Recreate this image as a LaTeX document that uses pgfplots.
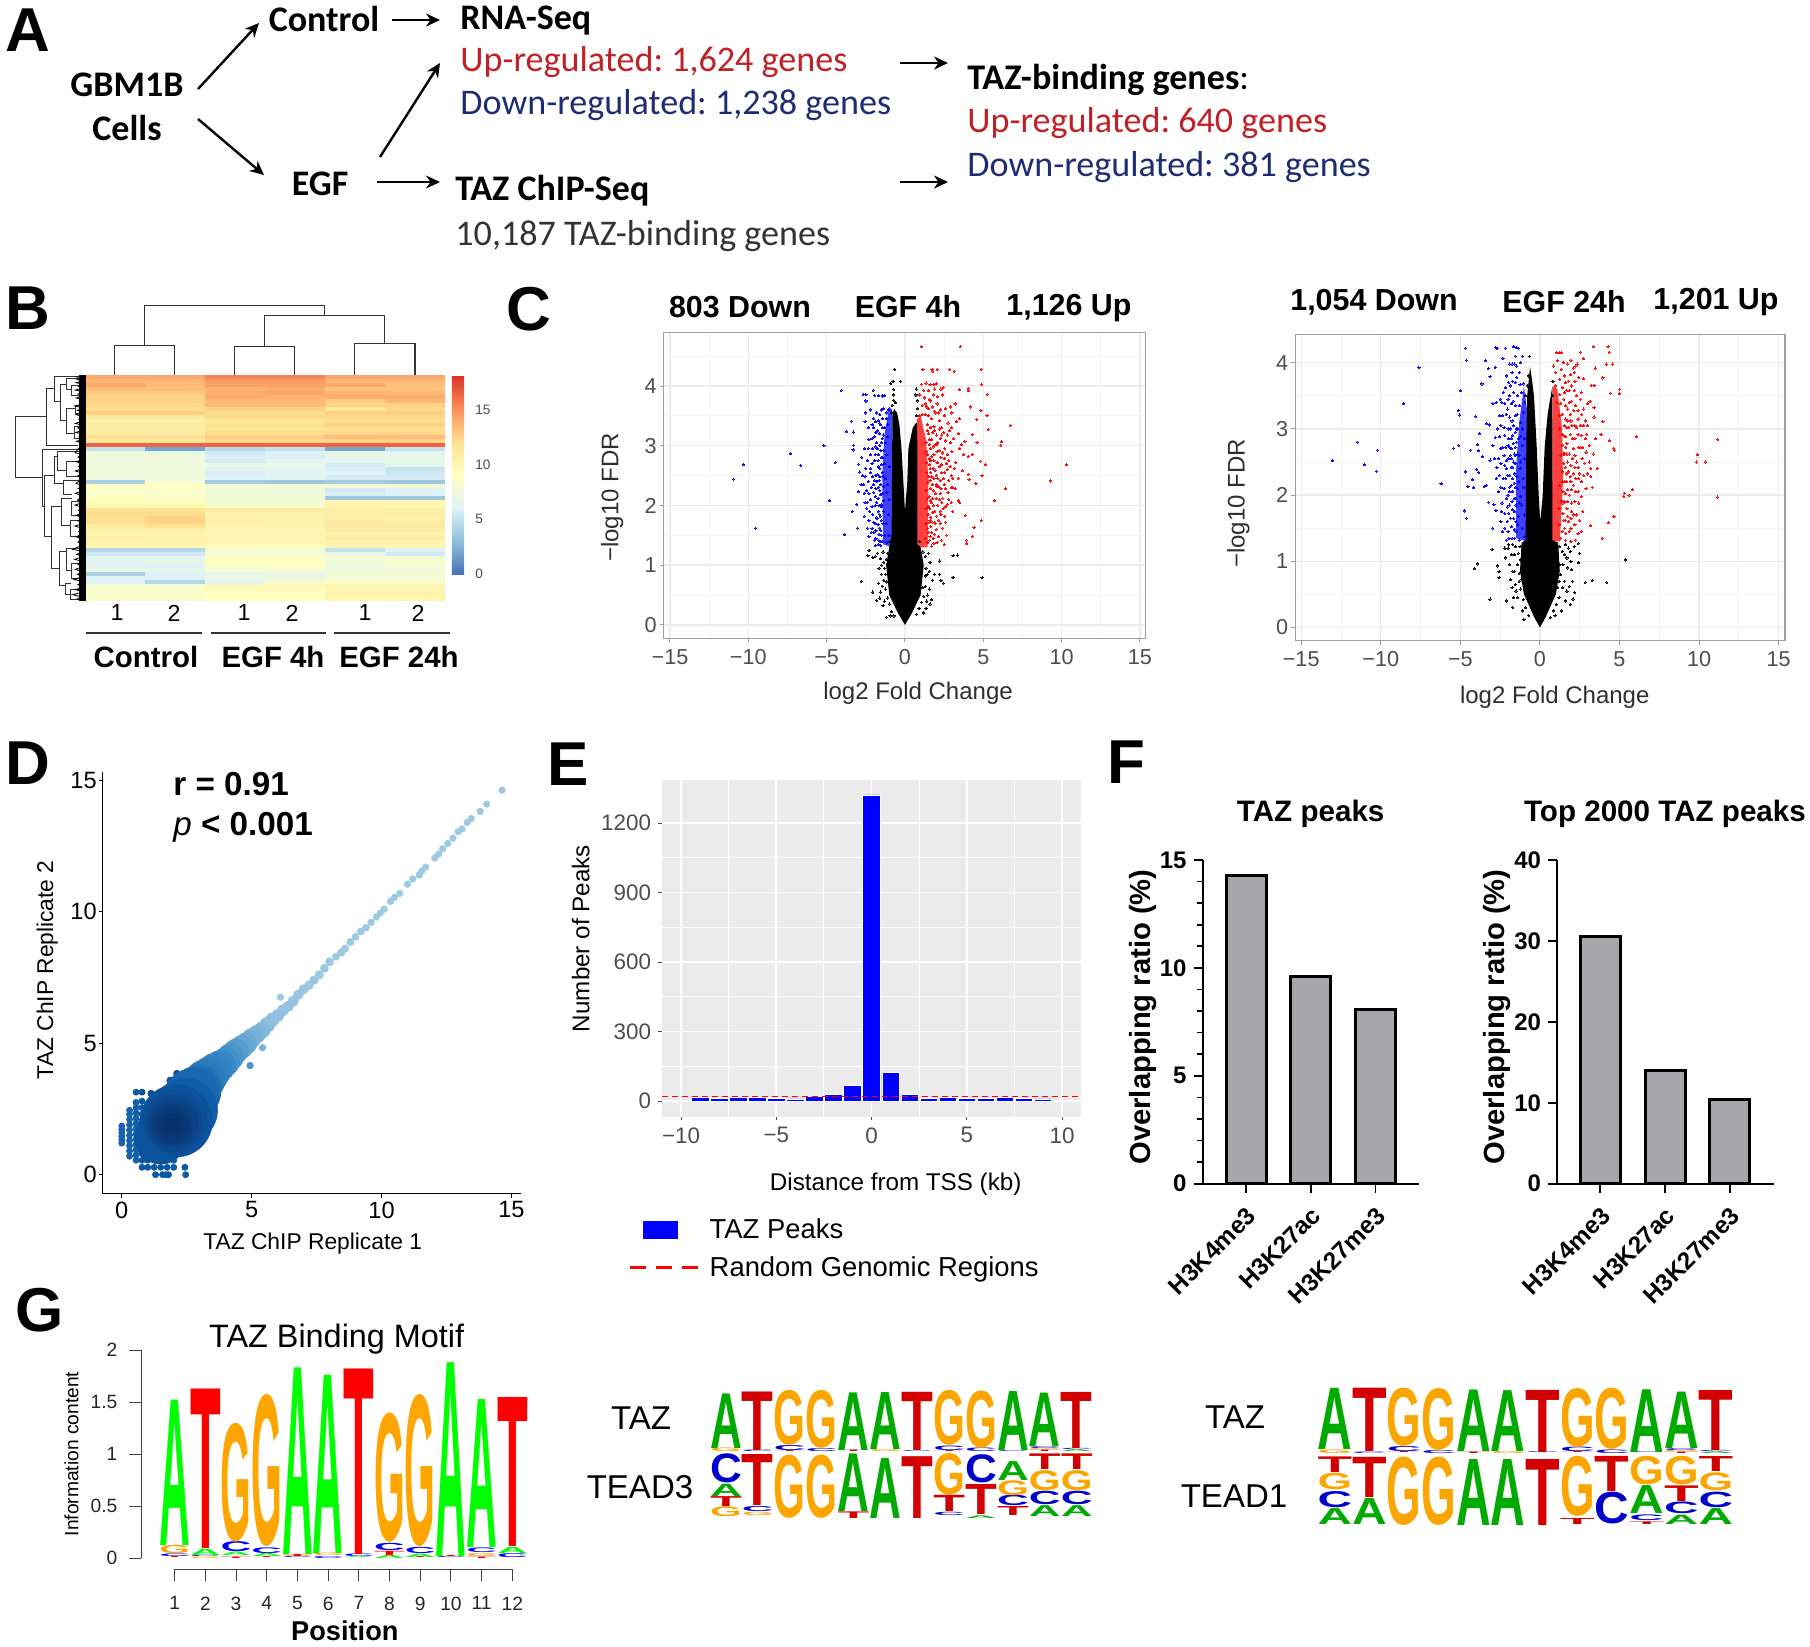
\documentclass[border=0pt]{standalone}
\usepackage{fontspec}
\usepackage{graphicx}
\usepackage{pgfplots}
\pgfplotsset{compat=1.18,unbounded coords=jump}
\usetikzlibrary{arrows.meta}
\setmainfont{Liberation Sans}
\newfontfamily\carlito{Carlito}
\newcommand{\fs}[1]{\fontsize{#1}{#1}\selectfont}
\definecolor{ggray}{HTML}{4D4D4D}
\definecolor{upred}{RGB}{192,32,38}
\definecolor{downblue}{RGB}{30,45,115}
\definecolor{barg}{HTML}{A5A5AA}
\definecolor{lA}{RGB}{0,170,0}
\definecolor{lT}{RGB}{210,0,0}
\definecolor{lG}{RGB}{250,165,0}
\definecolor{lC}{RGB}{0,0,205}
\definecolor{bA}{RGB}{0,255,0}
\definecolor{bT}{RGB}{255,0,0}
\definecolor{bG}{RGB}{255,165,0}
\definecolor{bC}{RGB}{0,0,255}
% sequence logo letter: letter, colour, position, lower, upper
\newcommand{\Lt}[5]{\node[inner sep=0pt,outer sep=0pt,anchor=south] at (axis cs:#3,#4)
  {\pgfmathsetlengthmacro\hh{(#5-#4)*\lu}\resizebox*{\lw}{\hh}{\textcolor{#2}{\bfseries #1}}};}
\pgfplotsset{
  place/.style={scale only axis,anchor=south west},
  volcano/.style={place,grid=both,
    major grid style={gray!15,line width=.7pt},minor grid style={gray!9,line width=.4pt},
    axis line style={gray!75,line width=.7pt},
    xtick={-15,-10,-5,0,5,10,15},xticklabels={−15,−10,−5,0,5,10,15},
    minor xtick={-12.5,-7.5,-2.5,2.5,7.5,12.5},
    ytick={0,1,2,3,4},yticklabels={0,1,2,3,4},minor ytick={0.5,1.5,2.5,3.5,4.5},
    xtick pos=bottom,ytick pos=left,tick align=outside,
    major tick length=2pt,minor tick length=0pt,tick style={gray!80,line width=.5pt},
    tick label style={font=\fs{10.8},text=ggray},y tick label style={xshift=2pt},
    label style={font=\fs{12},text=ggray!60!black}},
  dots/.style={only marks,mark=*,mark size=.55pt,color=#1,mark options={fill=#1,draw=#1,line width=0pt,opacity=.8}},
  fbars/.style={place,width=108.3pt,height=161.85pt,ymin=0,
    axis lines=left,axis line style={-,line width=.85pt},
    xtick={0,1,2},xticklabels={H3K4me3,H3K27ac,H3K27me3},
    x tick label style={rotate=45,anchor=north east,font=\bfseries\fs{12.2},inner sep=1pt,xshift=-3.5pt,yshift=-3pt},
    y tick label style={font=\bfseries\fs{12}},
    major tick length=4.6pt,minor tick length=3pt,tick style={black,line width=.85pt},
    tick align=outside,
    ylabel={Overlapping ratio (\%)},
    ylabel style={anchor=center,font=\bfseries\fs{14.6}},
    title style={anchor=center,font=\bfseries\fs{14.8}}},
  logo/.style={place,hide axis,xmin=.5,xmax=12.5,ymin=0,ymax=2.2,clip=false,height=33pt},
}
\begin{document}
\frenchspacing
\begin{tikzpicture}
\path[use as bounding box] (0,0) rectangle (905pt,823pt);

% B heatmap
\begin{axis}[place,at={(42.5pt,522.5pt)},width=180pt,height=113pt,
  xmin=-.5,xmax=5.5,ymin=-.5,ymax=55.5,y dir=reverse,
  xtick=\empty,ytick=\empty,axis line style={draw=none},
  colormap={hm}{rgb255(0)=(69,117,180) rgb255(1)=(145,191,219) rgb255(2)=(224,243,248) rgb255(3)=(255,255,191) rgb255(4)=(254,224,144) rgb255(5)=(252,141,89) rgb255(6)=(215,48,39)},
  point meta min=0,point meta max=18.2,
  colorbar,colorbar style={at={(1.019,1)},anchor=north west,width=6.2pt,height=99.5pt,
    ytick={0,5,10,15},yticklabels={0,5,10,15},axis line style={draw=none},
    major tick length=0pt,yticklabel style={font=\fs{6.8},text=ggray,xshift=2pt}}]
\addplot[matrix plot*,mesh/cols=6,point meta=explicit] coordinates {
(0,0)[14.2](1,0)[14.2](2,0)[15.5](3,0)[15.5](4,0)[14.3](5,0)[14.3]
(0,1)[13.6](1,1)[13.6](2,1)[14.6](3,1)[14.6](4,1)[13.6](5,1)[13.6]
(0,2)[14.2](1,2)[13.6](2,2)[14.4](3,2)[14.4](4,2)[14.2](5,2)[13.4]
(0,3)[13.3](1,3)[13.4](2,3)[13.6](3,3)[14.0](4,3)[13.2](5,3)[13.2]
(0,4)[13.0](1,4)[13.0](2,4)[14.0](3,4)[14.2](4,4)[13.8](5,4)[13.6]
(0,5)[12.6](1,5)[12.6](2,5)[14.0](3,5)[13.8](4,5)[14.0](5,5)[14.0]
(0,6)[12.6](1,6)[12.6](2,6)[13.6](3,6)[13.6](4,6)[12.8](5,6)[13.6]
(0,7)[12.4](1,7)[12.4](2,7)[13.6](3,7)[13.6](4,7)[12.6](5,7)[12.6]
(0,8)[12.2](1,8)[12.2](2,8)[12.6](3,8)[12.6](4,8)[11.2](5,8)[12.4]
(0,9)[12.8](1,9)[12.8](2,9)[12.2](3,9)[12.2](4,9)[12.8](5,9)[12.8]
(0,10)[11.4](1,10)[11.4](2,10)[12.4](3,10)[12.4](4,10)[12.4](5,10)[12.4]
(0,11)[10.6](1,11)[10.6](2,11)[11.4](3,11)[11.4](4,11)[12.2](5,11)[12.2]
(0,12)[11.0](1,12)[11.0](2,12)[12.0](3,12)[12.0](4,12)[12.6](5,12)[12.6]
(0,13)[10.8](1,13)[10.8](2,13)[11.6](3,13)[11.6](4,13)[12.0](5,13)[12.0]
(0,14)[10.8](1,14)[10.8](2,14)[12.2](3,14)[12.2](4,14)[12.4](5,14)[12.4]
(0,15)[12.0](1,15)[12.0](2,15)[12.8](3,15)[12.8](4,15)[13.4](5,15)[13.4]
(0,16)[11.4](1,16)[11.4](2,16)[12.4](3,16)[12.4](4,16)[12.6](5,16)[12.6]
(0,17)[16.5](1,17)[16.5](2,17)[16.5](3,17)[16.5](4,17)[16.5](5,17)[16.5]
(0,18)[5.0](1,18)[2.0](2,18)[4.5](3,18)[5.0](4,18)[2.0](5,18)[5.0]
(0,19)[7.5](1,19)[7.0](2,19)[5.5](3,19)[6.0](4,19)[7.0](5,19)[6.5]
(0,20)[7.5](1,20)[7.5](2,20)[6.0](3,20)[5.8](4,20)[7.0](5,20)[6.8]
(0,21)[7.6](1,21)[7.6](2,21)[5.6](3,21)[6.4](4,21)[6.4](5,21)[7.0]
(0,22)[7.6](1,22)[7.6](2,22)[7.0](3,22)[7.0](4,22)[5.6](5,22)[6.8]
(0,23)[7.6](1,23)[7.6](2,23)[6.2](3,23)[6.5](4,23)[5.8](5,23)[5.2]
(0,24)[7.6](1,24)[7.6](2,24)[5.8](3,24)[6.2](4,24)[6.0](5,24)[5.4]
(0,25)[7.6](1,25)[7.6](2,25)[6.0](3,25)[6.4](4,25)[5.6](5,25)[5.6]
(0,26)[4.0](1,26)[8.0](2,26)[3.8](3,26)[3.5](4,26)[3.8](5,26)[3.5]
(0,27)[9.0](1,27)[9.0](2,27)[8.0](3,27)[8.0](4,27)[8.0](5,27)[8.0]
(0,28)[8.5](1,28)[8.5](2,28)[7.5](3,28)[7.5](4,28)[5.5](5,28)[6.0]
(0,29)[8.5](1,29)[8.5](2,29)[7.6](3,29)[7.6](4,29)[5.8](5,29)[6.0]
(0,30)[9.0](1,30)[8.5](2,30)[7.8](3,30)[7.8](4,30)[3.5](5,30)[3.5]
(0,31)[9.5](1,31)[9.5](2,31)[8.0](3,31)[8.0](4,31)[10.0](5,31)[10.0]
(0,32)[9.8](1,32)[9.8](2,32)[8.4](3,32)[8.4](4,32)[10.2](5,32)[10.0]
(0,33)[11.8](1,33)[11.8](2,33)[11.0](3,33)[11.0](4,33)[10.6](5,33)[10.6]
(0,34)[12.2](1,34)[12.2](2,34)[10.4](3,34)[10.4](4,34)[11.0](5,34)[11.0]
(0,35)[12.0](1,35)[12.6](2,35)[10.2](3,35)[10.4](4,35)[10.6](5,35)[10.6]
(0,36)[12.0](1,36)[12.6](2,36)[10.6](3,36)[10.4](4,36)[11.2](5,36)[11.0]
(0,37)[11.0](1,37)[11.8](2,37)[10.2](3,37)[10.2](4,37)[11.2](5,37)[11.2]
(0,38)[10.6](1,38)[10.6](2,38)[10.0](3,38)[10.0](4,38)[11.0](5,38)[11.0]
(0,39)[10.2](1,39)[10.2](2,39)[10.0](3,39)[10.0](4,39)[10.2](5,39)[10.2]
(0,40)[10.6](1,40)[10.4](2,40)[9.8](3,40)[9.8](4,40)[11.0](5,40)[11.0]
(0,41)[10.4](1,41)[10.4](2,41)[10.0](3,41)[10.0](4,41)[10.4](5,41)[10.4]
(0,42)[10.0](1,42)[10.0](2,42)[9.4](3,42)[9.2](4,42)[10.0](5,42)[10.0]
(0,43)[4.5](1,43)[4.5](2,43)[8.0](3,43)[8.0](4,43)[5.0](5,43)[6.0]
(0,44)[5.5](1,44)[5.5](2,44)[8.4](3,44)[8.4](4,44)[7.0](5,44)[5.5]
(0,45)[6.6](1,45)[6.6](2,45)[8.6](3,45)[8.6](4,45)[8.0](5,45)[8.0]
(0,46)[6.4](1,46)[7.0](2,46)[9.2](3,46)[9.2](4,46)[7.6](5,46)[8.4]
(0,47)[6.6](1,47)[6.0](2,47)[8.6](3,47)[8.6](4,47)[7.4](5,47)[7.8]
(0,48)[7.0](1,48)[6.6](2,48)[8.2](3,48)[8.2](4,48)[7.6](5,48)[8.0]
(0,49)[4.0](1,49)[6.0](2,49)[6.6](3,49)[7.0](4,49)[8.0](5,49)[8.0]
(0,50)[6.0](1,50)[6.0](2,50)[7.0](3,50)[7.4](4,50)[8.0](5,50)[8.0]
(0,51)[6.0](1,51)[4.5](2,51)[6.4](3,51)[8.0](4,51)[8.4](5,51)[8.4]
(0,52)[8.0](1,52)[8.0](2,52)[9.8](3,52)[9.8](4,52)[10.2](5,52)[10.2]
(0,53)[8.6](1,53)[8.6](2,53)[9.4](3,53)[9.4](4,53)[10.0](5,53)[10.0]
(0,54)[8.2](1,54)[8.2](2,54)[9.0](3,54)[9.0](4,54)[10.4](5,54)[10.4]
(0,55)[8.6](1,55)[8.6](2,55)[8.8](3,55)[8.8](4,55)[9.8](5,55)[10.0]
};
\end{axis}

% B dendrograms
\begin{axis}[place,at={(0pt,478pt)},width=250pt,height=210pt,hide axis,clip=false,
  xmin=0,xmax=1500,ymin=0,ymax=1260,y dir=reverse]
\addplot[black!80,line width=.6pt] coordinates {
(344,315)(344,227)(524,227)(524,315)(nan,nan)
(704,315)(704,229)(884,229)(884,315)(nan,nan)
(1064,315)(1064,220)(1245,220)(1245,315)(nan,nan)
(794,229)(794,136)(1154,136)(1154,220)(nan,nan)
(434,227)(434,106)(974,106)(974,136)};
\addplot[black!80,line width=.45pt] coordinates {
(138,440)(45,440)(45,622)(128,622)(nan,nan)
(163,355)(138,355)(138,525)(235,525)(nan,nan)
(240,318)(163,318)(163,395)(180,395)(nan,nan)
(200,342)(180,342)(180,450)(200,450)(nan,nan)
(240,325)(200,325)(200,358)(215,358)(nan,nan)
(225,415)(200,415)(200,490)(222,490)(nan,nan)
(240,345)(215,345)(215,375)(240,375)(nan,nan)
(240,405)(225,405)(225,430)(240,430)(nan,nan)
(240,470)(222,470)(222,505)(240,505)(nan,nan)
(240,537)(128,537)(128,708)(133,708)(nan,nan)
(162,615)(133,615)(133,800)(155,800)(nan,nan)
(172,560)(162,560)(162,640)(190,640)(nan,nan)
(240,545)(172,545)(172,600)(200,600)(nan,nan)
(240,575)(200,575)(200,620)(240,620)(nan,nan)
(240,632)(190,632)(190,672)(215,672)(nan,nan)
(185,708)(155,708)(155,895)(178,895)(nan,nan)
(215,685)(185,685)(185,765)(210,765)(nan,nan)
(240,695)(215,695)(215,735)(240,735)(nan,nan)
(240,750)(210,750)(210,800)(240,800)(nan,nan)
(200,845)(178,845)(178,945)(195,945)(nan,nan)
(240,835)(200,835)(200,900)(215,900)(nan,nan)
(240,880)(215,880)(215,925)(240,925)(nan,nan)
(212,940)(195,940)(195,972)(212,972)(nan,nan)
(240,958)(212,958)(212,988)(250,988)};
\addplot[black,line width=.4pt] coordinates {
(225,320)(250,324)(232,328)(250,333)(228,338)(250,343)(236,349)(250,354)(226,360)(250,366)(234,372)(250,377)(229,384)(250,390)(238,396)(250,402)(224,408)(250,414)(232,421)(250,427)(228,434)(250,440)(236,447)(250,453)(226,460)(250,467)(233,474)(250,480)(228,487)(250,494)(237,501)(250,507)(230,514)(250,520)
(225,548)(250,554)(234,561)(250,568)(228,575)(250,582)(236,589)(250,596)(226,603)(250,610)(232,618)(250,625)(228,640)(250,647)(235,655)(250,662)(226,670)(250,678)(232,690)(250,697)(225,705)(250,713)(236,721)(250,728)(228,736)(250,744)(233,752)(250,760)(225,768)(250,776)(236,784)(250,792)(228,800)(250,808)(234,816)(250,824)
(218,838)(250,845)(230,853)(250,860)(224,868)(250,875)(234,883)(250,890)(226,898)(250,905)(232,913)(250,920)(222,928)(250,936)(234,944)(250,951)(226,959)(250,966)(218,974)(250,982)(228,988)};
\addplot[black,line width=3.2pt] coordinates {(248,315)(248,992)};
\end{axis}

% C volcano, EGF 4h
\begin{axis}[volcano,at={(331.85pt,503.85pt)},width=241pt,height=153pt,
  xmin=-15.4,xmax=15.37,ymin=-0.224,ymax=4.9,
  xlabel={log2 Fold Change},ylabel={−log10 FDR},
  xlabel style={at={(axis description cs:.5276,-.18)},anchor=center},
  ylabel style={at={(axis description cs:-.107,.46)},anchor=center}]
\addplot[fill=blue,draw=none,fill opacity=.75] coordinates {(-1.4,1.35)(-.8,1.3)(-.8,3.6)(-1.0,3.65)(-1.3,3.2)(-1.45,2.5)} --cycle;
\addplot[fill=red,draw=none,fill opacity=.75] coordinates {(.78,1.3)(1.45,1.3)(1.5,2.4)(1.35,3.1)(1.0,3.5)(.78,3.45)} --cycle;
\addplot[dots=blue] coordinates {
(-10.94,2.44)(-10.29,2.68)(-9.53,1.62)(-7.31,2.87)(-6.65,2.67)(-5.17,3.0)(-4.44,2.72)(-4.8,2.08)(-4.07,3.93)(-3.85,1.51)
(-3.41,3.41)(-3.73,3.24)(-3.29,3.23)(-3.27,3.01)(-3.31,2.93)(-3.36,1.9)(-3.02,1.62)(-2.95,2.23)(-3.07,2.02)(-2.97,2.69)(-2.88,2.56)
(-2.66,3.86)(-2.49,3.86)(-2.49,3.75)(-2.02,3.93)(-1.93,3.84)(-1.7,3.84)(-1.45,3.84)(-1.3,3.84)(-1.42,3.83)
(-2.5,3.55)(-2.2,3.6)(-1.6,3.52)(-1.35,3.62)(-1.2,3.55)(-1.05,3.6)(-1.45,3.45)(-1.15,3.45)
(-2.55,3.4)(-2.0,3.3)(-1.9,3.4)(-1.75,3.25)(-1.55,3.35)(-1.3,3.3)(-1.1,3.35)(-1.95,3.15)(-1.6,3.2)
(-2.3,3.1)(-2.05,2.95)(-1.8,3.05)(-1.6,3.0)(-1.45,3.12)(-1.25,3.05)(-1.1,3.15)(-2.2,2.85)(-1.35,2.92)
(-2.75,2.8)(-2.4,2.75)(-2.1,2.7)(-1.9,2.85)(-1.7,2.65)(-1.5,2.8)(-1.3,2.7)(-1.15,2.85)(-2.5,2.62)(-1.6,2.62)(-1.0,2.65)
(-2.55,2.48)(-2.35,2.4)(-2.2,2.55)(-2.0,2.35)(-1.85,2.5)(-1.65,2.42)(-1.45,2.55)(-1.25,2.45)(-1.1,2.35)(-2.65,2.35)(-1.7,2.3)(-1.35,2.32)
(-2.6,2.2)(-2.2,2.1)(-2.0,2.22)(-1.8,2.05)(-1.55,2.18)(-1.35,2.08)(-1.15,2.22)(-1.0,2.1)(-1.65,2.0)(-2.4,2.05)
(-2.45,1.95)(-2.3,1.75)(-2.05,1.85)(-1.9,1.7)(-1.7,1.9)(-1.5,1.75)(-1.35,1.9)(-1.2,1.7)(-1.05,1.85)(-1.6,1.62)(-2.1,1.62)
(-2.15,1.55)(-1.85,1.45)(-1.65,1.52)(-1.45,1.4)(-1.3,1.5)(-1.15,1.38)(-1.02,1.5)(-1.9,1.33)(-1.55,1.33)
(-1.42,3.3)(-1.5,3.05)(-1.42,2.8)(-1.52,2.68)(-1.4,2.48)(-1.55,2.35)(-1.42,2.2)(-1.48,2.02)(-1.62,1.85)(-1.4,1.7)(-1.55,1.58)(-1.7,1.42)
(-1.75,2.95)(-1.72,2.75)(-1.8,2.4)(-1.9,2.15)(-1.82,1.8)(-1.98,1.55)
(-2.02,3.45)(-1.82,3.55)(-1.7,3.42)(-1.5,3.6)(-1.38,3.18)(-1.62,3.38)(-1.85,3.22)(-2.1,3.12)(-1.9,2.98)(-1.68,2.85)(-1.55,2.92)(-1.95,2.75)(-2.2,2.62)(-2.05,2.48)(-1.75,2.52)(-1.6,2.48)(-1.95,2.42)(-2.15,2.3)(-2.3,2.2)(-1.85,2.28)(-1.6,2.25)(-1.72,2.12)(-1.9,2.0)(-2.1,1.98)(-2.25,1.9)(-1.5,1.98)(-1.58,1.82)(-1.78,1.78)(-2.0,1.72)(-1.72,1.68)(-1.85,1.58)(-1.5,1.5)(-1.7,1.35)(-1.95,1.42)(-2.3,1.48)(-1.58,1.4)(-2.6,2.95)(-2.35,2.95)(-2.1,3.35)(-2.35,3.3)(-2.7,2.5)(-2.8,2.35)(-2.45,2.25)(-2.55,2.05)(-2.4,1.62)(-2.6,1.82)};
\addplot[dots=red] coordinates {
(1.07,4.66)(3.53,4.66)(1.15,4.28)(1.73,4.28)(2.07,4.28)(1.78,4.25)(2.85,4.28)(3.14,4.25)(4.87,4.28)(4.9,4.03)(5.26,3.86)(4.05,3.96)(4.05,3.92)(3.49,3.94)
(5.24,3.51)(6.73,3.34)(5.31,3.27)(6.17,3.07)(6.12,3.01)(9.31,2.41)(10.31,2.68)(6.43,2.28)(5.7,2.08)(4.83,2.74)(5.14,2.68)(4.92,2.5)(4.53,2.37)(4.87,1.75)(4.41,1.63)(4.29,1.48)(3.92,1.36)(3.92,1.42)(3.85,1.83)
(4.85,3.59)(4.17,3.65)(4.58,3.44)(4.6,3.06)(4.29,3.19)(3.83,3.07)(4.05,2.82)(4.29,2.85)(4.05,2.52)(4.09,2.43)
(1.05,4.03)(1.35,4.05)(1.6,4.02)(1.85,4.03)(2.0,4.04)(2.3,3.95)(1.2,3.93)(1.5,3.92)(1.9,3.95)(2.45,3.98)
(0.95,3.85)(1.25,3.8)(1.55,3.78)(1.8,3.85)(2.1,3.82)(2.4,3.85)(1.1,3.68)(1.4,3.65)(1.75,3.65)(2.05,3.7)(2.6,3.62)(2.9,3.65)(3.2,3.7)(2.25,3.6)
(0.9,3.5)(1.1,3.52)(1.3,3.52)(1.5,3.5)(1.7,3.45)(1.95,3.55)(2.2,3.42)(2.5,3.5)(2.75,3.38)(3.0,3.55)(3.3,3.4)(1.45,3.35)(1.85,3.32)(2.35,3.3)(3.5,3.45)
(1.5,3.2)(1.7,3.1)(1.9,3.25)(2.1,3.05)(2.35,3.18)(2.6,3.08)(2.85,3.25)(3.1,3.12)(3.4,3.2)(3.6,3.02)(1.35,3.05)(2.2,3.28)
(1.45,2.85)(1.65,2.95)(1.85,2.75)(2.05,2.9)(2.3,2.8)(2.55,2.95)(2.8,2.75)(3.0,2.9)(3.25,2.72)(3.5,2.95)(3.75,2.85)(1.4,2.72)(2.65,2.7)
(1.4,2.55)(1.6,2.42)(1.8,2.62)(2.0,2.5)(2.2,2.65)(2.45,2.45)(2.7,2.6)(2.95,2.5)(3.15,2.62)(3.4,2.45)(3.65,2.58)(1.55,2.68)(2.25,2.42)
(1.35,2.25)(1.55,2.15)(1.75,2.35)(1.95,2.2)(2.15,2.32)(2.4,2.12)(2.6,2.28)(2.2,2.1)(1.45,2.38)(3.05,2.3)
(1.35,1.95)(1.5,1.85)(1.7,2.05)(1.9,1.9)(2.1,2.0)(2.35,2.05)(2.6,1.98)(2.95,2.05)(3.05,1.9)(3.4,2.08)(3.5,2.05)(1.65,1.8)(2.8,2.1)
(1.35,1.7)(1.5,1.55)(1.65,1.65)(1.8,1.45)(2.0,1.6)(2.25,1.7)(2.6,1.72)(2.65,1.5)(1.45,1.38)(1.7,1.32)(2.05,1.38)(2.5,1.35)(1.3,1.45)
(1.42,3.25)(1.55,3.02)(1.35,2.9)(1.55,2.78)(1.72,2.82)(1.48,2.48)(1.65,2.55)(1.42,2.12)(1.62,2.28)(1.85,2.45)(1.52,1.98)(1.78,2.12)(1.42,1.62)(1.6,1.75)(1.58,1.42)(1.9,1.72)(1.95,3.02)(2.05,2.72)(2.0,2.35)(2.25,1.9)
(1.52,3.62)(1.62,3.75)(1.3,3.7)(1.88,3.58)(2.15,3.55)(1.62,3.3)(1.78,3.22)(2.02,3.18)(2.25,3.12)(2.48,3.22)(2.7,3.18)(2.95,3.3)(1.58,3.1)(1.8,2.98)(2.02,3.02)(2.2,2.92)(2.42,2.88)(2.7,2.85)(2.92,3.05)(1.62,2.75)(1.85,2.85)(2.1,2.72)(2.35,2.68)(2.52,2.78)(2.88,2.65)(1.62,2.62)(1.92,2.58)(2.1,2.45)(2.32,2.55)(2.55,2.55)(2.8,2.42)(3.05,2.45)(1.7,2.48)(1.82,2.25)(2.05,2.32)(2.3,2.28)(2.5,2.35)(2.75,2.22)(2.95,2.3)(3.2,2.28)(1.62,2.08)(1.82,2.0)(2.0,2.12)(2.25,2.2)(2.45,1.95)(2.7,2.02)(1.58,1.95)(1.78,1.88)(2.02,1.82)(2.3,1.85)(2.55,1.82)(1.55,1.72)(1.75,1.72)(1.95,1.7)(2.15,1.75)(2.4,1.62)(1.72,1.55)(1.9,1.52)(2.15,1.48)(2.35,1.42)(1.6,1.48)(1.85,1.36)};
\addplot[fill=black,draw=none] coordinates {
(0,0)(-.45,.2)(-1.0,.5)(-1.2,1.0)(-1.0,1.3)(-.85,1.5)(-.8,3.5)(-.7,3.62)(-.5,3.55)(-.35,3.35)(-.22,2.95)(-.1,2.4)(0,1.9)
(.15,2.4)(.22,2.95)(.5,3.3)(.75,3.4)(.8,3.0)(.8,1.35)(1.0,1.3)(1.2,1.0)(1.0,.5)(.45,.2)} --cycle;
\addplot[dots=black] coordinates {
(-.66,4.28)(-.76,4.08)(-.29,4.08)(-.9,4.04)(-.71,3.94)(-.71,3.76)(-.75,3.85)(.7,3.85)(.72,3.95)
(-2.29,1.25)(-2.36,1.16)(-2.05,1.13)(-1.56,1.11)(-1.4,1.22)(-1.75,1.2)(-1.9,1.15)(-1.3,.95)(-1.5,.85)(-1.7,.7)(-1.35,.75)(-1.55,.55)(-1.3,.4)(-1.4,.32)(-1.19,.13)(-.95,.15)
(2.22,1.07)(2.2,.85)(3.07,1.16)(3.36,1.17)(3.07,.8)(4.92,.79)(-2.78,.73)(-2.05,.55)(-1.8,.41)(1.9,.85)(2.3,.75)(2.45,.7)(1.5,1.2)(1.6,1.05)(1.45,.85)(1.3,.65)(1.4,.4)(1.35,.28)(1.2,.2)(1.6,.35)
(-1.1,1.2)(-1.2,1.1)(-1.35,1.05)(-1.25,.85)(-1.15,.72)(-1.25,.6)(-1.1,.45)(-1.0,.35)(-.85,.22)(-.7,.15)(-1.5,1.0)(-1.65,.95)(-1.45,.65)(-1.6,.45)(1.15,1.22)(1.3,1.15)(1.35,.95)(1.3,.82)(1.15,.62)(1.2,.48)(1.05,.38)(.9,.28)(.75,.18)(1.55,.9)(1.75,.75)(1.55,.6)(1.7,.42)(1.45,.5)(-.95,1.4)(.95,1.4)(-.88,3.55)(-.82,3.68)(-.62,3.72)(.75,3.5)(.82,3.62)(.78,3.75)};
\end{axis}

% C volcano, EGF 24h
\begin{axis}[volcano,at={(647.65pt,502.65pt)},width=244.75pt,height=153.2pt,
  xmin=-15.37,xmax=15.39,ymin=-0.2,ymax=4.43,
  xlabel={log2 Fold Change},ylabel={−log10 FDR},
  xlabel style={at={(axis description cs:.53,-.184)},anchor=center},
  ylabel style={at={(axis description cs:-.116,.448)},anchor=center}]
\addplot[fill=blue,draw=none,fill opacity=.75] coordinates {(-1.5,1.35)(-.82,1.3)(-.82,3.3)(-1.0,3.65)(-1.3,3.1)(-1.5,2.4)} --cycle;
\addplot[fill=red,draw=none,fill opacity=.75] coordinates {(.76,1.3)(1.25,1.3)(1.45,2.2)(1.4,3.0)(1.1,3.6)(.8,3.65)} --cycle;
\addplot[dots=blue] coordinates {
(-13.03,2.52)(-11.47,2.8)(-11.03,2.46)(-10.2,2.68)(-10.27,2.36)(-8.56,3.38)(-7.6,3.93)(-6.21,2.17)(-5.43,2.71)(-5.11,2.75)(-5.13,3.28)(-5.04,3.21)(-4.99,3.58)(-4.67,4.22)(-4.62,4.04)(-4.74,1.76)(-4.62,1.65)(-4.69,2.35)
(-4.35,2.68)(-4.23,2.23)(-4.52,2.13)(-4.16,2.11)(-4.03,3.19)(-3.79,2.93)(-3.96,2.39)(-3.84,2.34)(-3.91,2.76)(-3.64,3.68)(-3.4,4.03)(-3.37,3.08)(-3.18,3.06)(-3.86,2.67)(-3.5,2.13)(-3.37,2.15)(-3.62,2.58)(-3.13,2.53)(-3.23,1.89)(-2.89,1.86)(-2.76,1.77)(-2.4,1.75)(-2.96,1.5)
(-3.25,3.91)(-3.13,3.79)(-2.76,4.23)(-2.7,4.22)(-2.15,4.22)(-1.66,4.24)(-1.5,4.23)(-1.34,4.22)(-2.32,4.07)(-2.81,3.93)
(-1.9,3.98)(-1.75,3.98)(-1.6,3.98)(-1.45,3.95)(-1.2,4.0)(-1.3,3.85)(-1.1,4.1)(-1.75,3.85)(-1.55,4.1)
(-2.1,3.8)(-1.85,3.65)(-1.55,3.7)(-1.25,3.67)(-1.05,3.68)(-1.65,3.55)(-2.3,3.55)(-1.4,3.5)(-1.15,3.55)(-2.0,3.45)
(-2.75,3.4)(-2.5,3.45)(-2.35,3.2)(-2.05,3.3)(-1.8,3.38)(-1.55,3.2)(-1.3,3.35)(-1.05,3.25)(-.95,3.4)(-2.55,3.2)(-1.75,3.12)(-1.2,3.1)
(-2.45,3.05)(-2.0,3.0)(-1.8,2.85)(-1.55,2.95)(-1.35,2.85)(-1.1,3.0)(-.95,2.85)(-2.8,2.87)(-2.55,2.88)(-2.2,2.9)(-1.65,3.05)
(-2.95,2.75)(-2.45,2.7)(-2.25,2.6)(-2.0,2.75)(-1.8,2.55)(-1.55,2.72)(-1.3,2.6)(-1.1,2.75)(-.95,2.55)(-1.65,2.5)(-2.1,2.52)(-2.6,2.55)
(-2.7,2.42)(-2.55,2.3)(-2.3,2.25)(-2.1,2.4)(-1.9,2.3)(-1.7,2.42)(-1.45,2.28)(-1.25,2.4)(-1.05,2.25)(-1.55,2.48)(-2.75,2.25)
(-2.25,2.1)(-2.0,2.0)(-1.8,2.15)(-1.6,1.95)(-1.4,2.1)(-1.2,1.98)(-1.0,2.12)(-2.1,1.95)(-1.75,1.9)
(-2.2,1.72)(-1.9,1.85)(-1.85,1.65)(-1.6,1.75)(-1.35,1.68)(-1.15,1.85)(-.95,1.7)(-1.5,1.6)(-2.05,1.6)
(-2.35,1.45)(-2.0,1.45)(-1.75,1.35)(-1.5,1.45)(-1.3,1.32)(-1.1,1.5)(-.95,1.38)(-2.1,1.32)
(-1.42,3.22)(-1.45,3.0)(-1.22,2.88)(-1.48,2.8)(-1.42,2.62)(-1.2,2.5)(-1.6,2.62)(-1.35,2.2)(-1.55,2.12)(-1.62,2.32)(-1.3,1.88)(-1.5,1.85)(-1.72,2.05)(-1.4,1.55)(-1.62,1.48)(-1.85,2.6)(-1.9,2.05)(-1.95,2.85)
(-2.15,3.62)(-1.95,3.7)(-1.72,3.72)(-1.45,3.78)(-1.9,3.5)(-2.12,3.22)(-1.92,3.18)(-2.25,3.02)(-2.15,2.72)(-1.72,2.9)(-1.9,2.72)(-2.35,2.72)(-2.45,2.48)(-2.2,2.45)(-1.98,2.55)(-1.78,2.7)(-2.02,2.3)(-1.8,2.42)(-1.72,2.25)(-2.15,2.25)(-2.45,2.12)(-1.92,2.12)(-2.05,1.82)(-1.72,1.78)(-2.38,1.88)(-1.95,1.72)(-1.8,1.52)(-1.65,1.65)(-2.2,1.5)(-1.95,1.35)(-1.58,1.35)(-2.4,3.4)(-2.2,3.38)(-2.65,3.0)(-2.85,2.55)(-2.6,2.05)(-2.45,1.6)(-1.68,3.42)(-1.55,3.35)(-1.42,3.0)(-1.55,2.6)(-1.62,2.18)(-1.55,1.95)(-2.95,3.38)(-1.85,3.0)(-1.68,2.78)};
\addplot[dots=red] coordinates {
(11.17,2.84)(9.9,2.61)(9.83,2.5)(10.39,2.5)(11.17,1.97)(6.06,2.88)(5.82,2.08)(5.6,2.0)(5.31,2.03)(5.26,1.98)(4.65,1.68)(4.33,1.58)(3.91,1.35)(3.18,1.54)(4.69,2.68)(4.64,2.71)(4.38,2.82)(3.84,2.92)(3.4,3.32)(3.96,3.11)
(5.01,3.6)(5.01,3.53)(4.43,3.54)(3.96,3.77)(4.18,3.98)(4.57,3.98)(4.35,4.16)(4.28,4.24)(3.37,4.24)(2.54,4.16)(2.74,4.06)(3.47,3.92)(3.23,3.66)(3.4,3.66)(2.74,3.76)
(1.05,4.15)(1.2,4.15)(1.35,4.15)(1.1,4.03)(1.5,4.0)(1.75,3.98)(1.95,4.04)(2.25,3.95)(2.35,3.98)(0.85,3.95)(1.35,3.9)(2.1,3.92)
(1.0,3.85)(1.25,3.75)(1.55,3.8)(1.8,3.72)(2.2,3.72)(2.45,3.78)(1.0,3.65)(1.4,3.62)(1.7,3.58)(2.0,3.65)(2.6,3.55)(1.25,3.52)(2.3,3.5)
(1.05,3.4)(1.3,3.38)(1.5,3.45)(1.75,3.3)(2.0,3.42)(2.25,3.35)(2.55,3.45)(2.75,3.3)(3.0,3.38)(3.15,3.42)(1.2,3.2)(1.6,3.15)(1.9,3.22)(2.4,3.15)(2.85,3.12)(3.4,3.18)
(1.25,3.0)(1.5,2.9)(1.8,3.02)(2.05,2.85)(2.3,3.02)(2.6,2.9)(2.85,2.85)(3.1,2.75)(1.4,2.75)(1.7,2.78)(2.45,2.72)(3.5,2.85)(2.0,3.05)
(1.3,2.6)(1.5,2.48)(1.7,2.62)(1.95,2.45)(2.2,2.6)(2.4,2.42)(2.65,2.55)(2.9,2.65)(3.1,2.5)(3.35,2.62)(3.6,2.4)(1.4,2.35)(1.8,2.35)(2.1,2.32)(3.0,2.32)
(1.25,2.15)(1.45,2.05)(1.65,2.2)(1.85,2.0)(2.1,2.15)(2.4,2.05)(2.6,2.2)(2.9,2.1)(3.3,2.12)(1.35,1.92)(2.2,1.9)
(1.2,1.8)(1.45,1.72)(1.7,1.8)(1.95,1.65)(2.3,1.7)(2.7,1.75)(1.25,1.55)(1.55,1.5)(1.85,1.45)(2.2,1.55)(2.6,1.45)(1.3,1.35)(1.6,1.32)(1.95,1.3)(2.25,1.32)
(1.4,3.22)(1.55,3.05)(1.4,2.92)(1.62,2.72)(1.48,2.62)(1.6,2.42)(1.42,2.2)(1.6,2.02)(1.45,1.88)(1.6,1.62)(1.4,1.45)(1.85,2.62)(1.95,2.2)(2.1,2.7)(1.8,1.6)(2.0,1.88)(1.75,3.12)(2.2,2.42)(2.45,2.25)
(1.55,3.55)(1.85,3.58)(2.15,3.58)(1.62,3.7)(1.92,3.82)(2.15,3.85)(1.62,3.35)(1.85,3.4)(2.12,3.28)(2.4,3.28)(2.62,3.22)(1.7,3.02)(1.95,3.12)(2.2,3.05)(2.55,3.05)(2.75,3.05)(3.0,3.05)(1.62,2.88)(1.9,2.92)(2.2,2.85)(2.4,2.92)(2.7,2.72)(2.95,2.92)(1.55,2.62)(1.75,2.5)(2.05,2.55)(2.3,2.5)(2.55,2.72)(2.8,2.48)(3.2,2.4)(1.68,2.32)(1.9,2.28)(2.25,2.25)(2.5,2.32)(2.75,2.3)(3.2,2.28)(1.55,2.2)(1.75,2.08)(1.98,2.08)(2.25,2.05)(2.6,1.98)(1.55,1.9)(1.75,1.9)(2.0,1.75)(2.45,1.88)(1.5,1.62)(1.75,1.68)(2.1,1.7)(2.5,1.62)(1.62,1.42)(1.95,1.5)(2.4,1.42)};
\addplot[fill=black,draw=none] coordinates {
(0,0)(-.35,.15)(-1.0,.5)(-1.25,.85)(-1.15,1.28)(-.9,1.32)(-.85,2.83)(-.8,3.49)(-.62,3.94)(-.5,3.75)(-.37,3.49)(-.2,2.73)(-.07,1.97)(.02,1.6)
(.17,1.97)(.3,2.73)(.49,3.23)(.78,3.64)(.78,3.2)(.78,1.32)(1.15,1.28)(1.25,.85)(1.0,.5)(.35,.15)} --cycle;
\addplot[dots=black] coordinates {
(5.38,1.02)(-4.11,.89)(-3.94,.96)(-2.64,.93)(-2.57,.84)(-2.57,.75)(-3.13,.43)(-3.01,1.18)(2.86,.68)(3.3,.71)(4.2,.68)(2.42,1.27)(2.49,1.12)(2.42,.98)(2.0,.87)(2.18,.53)(2.08,.43)(-2.1,.4)(-.64,4.1)
(-2.0,1.2)(-1.7,1.25)(-1.6,1.1)(-1.9,.95)(-1.7,.85)(1.6,1.25)(1.8,1.2)(1.7,1.05)(1.9,1.15)(-1.3,.7)(-1.55,.65)(-1.75,.6)(-1.4,.45)(-1.7,.3)(1.2,.7)(1.4,.6)(1.6,.4)(1.35,.25)(-1.1,.25)(-1.0,.12)(.95,.18)(1.7,.55)(1.9,.35)
(-1.25,1.22)(-1.35,1.12)(-1.2,1.02)(-1.4,.95)(-1.3,.82)(-1.12,.72)(-1.2,.58)(-1.05,.42)(-.9,.3)(-.7,.18)(-1.55,1.22)(-1.8,1.1)(-1.95,1.25)(-2.2,1.2)(-2.15,1.05)(-1.6,.85)(-1.85,.72)(-1.5,.55)(-1.65,.45)(1.25,1.22)(1.4,1.15)(1.25,.95)(1.45,.95)(1.3,.8)(1.1,.6)(1.2,.45)(1.02,.35)(.85,.25)(.65,.15)(1.55,1.1)(1.75,.9)(1.55,.7)(1.95,1.0)(2.15,1.22)(1.85,.62)(2.05,.7)(-.9,3.5)(-.75,3.65)(-.72,3.8)(.8,3.5)(.82,3.72)};
\end{axis}

% D replicate correlation
\begin{axis}[place,at={(51.4pt,226.2pt)},width=209.1pt,height=210.8pt,
  xmin=-.73,xmax=15.37,ymin=-.72,ymax=15.32,
  axis lines=left,axis line style={-,line width=.6pt},
  xtick={0,5,10,15},xticklabels={0,5,10,15},ytick={0,5,10,15},yticklabels={0,5,10,15},
  tick align=outside,major tick length=2pt,tick style={black,line width=.5pt},
  tick label style={font=\fs{11.8}},x tick label style={yshift=1.5pt},y tick label style={xshift=2.5pt},clip=false,
  xlabel={TAZ ChIP Replicate 1},ylabel={TAZ ChIP Replicate 2},
  label style={font=\fs{11.4}},
  xlabel style={at={(axis description cs:.502,-.118)},anchor=center},
  ylabel style={at={(axis description cs:-.133,.531)},anchor=center},
  colormap={bl}{rgb255(0)=(8,48,107) rgb255(1)=(13,88,165) rgb255(2)=(60,140,200) rgb255(3)=(140,190,222) rgb255(4)=(158,202,225)},
  point meta min=0,point meta max=1]
\addplot[scatter,only marks,mark=*,scatter src=explicit,
  scatter/use mapped color={draw=mapped color,fill=mapped color},
  visualization depends on={\thisrow{r}\as\rr},
  scatter/@pre marker code/.append style={/tikz/mark size=\rr pt}]
  table[x=x,y=y,meta=c]{
x y r c
0 1.2 1.5 .3
0 1.33 1.5 .3
0 1.46 1.5 .3
0 1.59 1.5 .3
0 1.72 1.5 .3
0 1.85 1.5 .3
.3 .7 1.5 .3
.3 .9 1.5 .3
.3 1.1 1.5 .3
.3 1.3 1.5 .3
.3 1.5 1.5 .3
.3 1.7 1.5 .3
.3 1.9 1.5 .3
.3 2.1 1.5 .3
.3 2.3 1.5 .3
.3 2.45 1.5 .3
.55 .55 1.5 .28
.55 .75 1.5 .28
.55 .95 1.5 .28
.55 1.15 1.5 .28
.55 1.35 1.5 .28
.55 1.55 1.5 .28
.55 1.75 1.5 .28
.55 1.95 1.5 .28
.55 2.15 1.5 .28
.55 2.35 1.5 .28
.55 2.55 1.5 .28
.55 2.75 1.5 .28
.55 3.14 1.5 .25
.78 .28 1.5 .25
.78 .55 1.5 .25
.78 .8 1.5 .25
.78 1.05 1.5 .25
.78 1.3 1.5 .25
.78 1.55 1.5 .25
.78 1.8 1.5 .25
.78 2.05 1.5 .25
.78 2.3 1.5 .25
.78 2.55 1.5 .25
.78 2.8 1.5 .25
.78 3.14 1.5 .22
1.0 .28 1.5 .25
1.0 .55 1.5 .25
1.0 .8 1.5 .25
1.25 .28 1.5 .25
1.25 .55 1.5 .25
1.5 .28 1.5 .25
1.5 .55 1.5 .25
1.75 .28 1.5 .25
1.75 .55 1.5 .25
2.0 .28 1.5 .25
2.0 .55 1.5 .25
2.43 .28 1.5 .25
1.3 0 1.5 .25
1.57 0 1.5 .25
1.7 0 1.5 .25
1.8 0 1.5 .25
2.46 0 1.5 .25
14.64 14.63 1.6 1
14.05 14.1 1.6 1
13.8 13.82 1.6 1
13.45 13.55 1.6 1
13.3 13.4 1.6 1
13.1 13.15 1.6 1
12.95 13.05 1.6 1
12.75 12.8 1.6 1
12.55 12.6 1.6 1
12.35 12.4 1.6 1
12.2 12.2 1.6 1
12.05 12.05 1.6 1
11.7 11.7 1.6 1
11.55 11.55 1.6 1
11.45 11.4 1.6 1
11.2 11.25 1.6 1
11.0 11.05 1.6 1
10.7 10.7 1.6 1
10.5 10.55 1.6 1
10.35 10.4 1.6 1
10.1 10.1 1.6 1
9.95 9.95 1.6 1
9.8 9.8 1.6 1
9.6 9.6 1.6 1
9.4 9.4 1.7 1
9.2 9.25 1.7 1
9.0 9.05 1.7 1
8.8 8.85 1.8 1
8.6 8.6 1.8 1
8.45 8.45 1.8 1
8.25 8.3 1.8 1
8.0 8.1 2 1
7.8 7.85 2 1
7.6 7.6 2.1 1
7.4 7.4 2.1 .95
7.2 7.2 2.2 .95
7.0 7.05 2.3 .95
6.8 6.85 2.4 .92
6.11 6.75 1.6 .95
6.6 6.6 2.6 .9
6.4 6.4 2.6 .88
6.2 6.25 2.8 .85
6.0 6.05 3 .82
5.8 5.9 3.3 .79
5.6 5.7 3.7 .76
5.42 4.83 1.6 .7
5.4 5.5 4 .73
5.2 5.35 4.3 .7
5.0 5.2 4.7 .68
4.94 4.15 1.6 .55
4.8 5.0 5.3 .65
4.6 4.85 5.7 .62
4.4 4.7 6 .58
4.2 4.5 6.5 .55
4.0 4.3 7 .52
3.8 4.15 7.5 .48
3.6 4.0 8.2 .46
3.4 3.8 9 .44
3.2 3.6 10 .42
3.5 2.28 1.6 .24
3.01 1.51 1.6 .2
2.85 1.25 1.6 .2
2.46 .93 1.6 .2
2.81 3.89 1.6 .2
2.46 3.67 1.6 .2
2.12 3.85 1.6 .2
2.05 3.57 1.6 .2
1.86 3.59 1.6 .2
1.57 3.09 1.6 .2
1.13 3.09 1.6 .2
3.0 3.35 11 .38
2.85 3.15 12.5 .34
2.7 3.0 13.5 .32
1.5 1.4 13 .22
2.45 2.45 16 .27
2.1 2.05 18 .22
2.05 2.0 16 .19
2.0 1.95 14 .15
2.0 1.95 12 .11
1.95 1.9 10 .08
1.95 1.9 8 .05
1.95 1.9 5.5 .02
1.95 1.9 3 0
};
\end{axis}

% E distance from TSS
\begin{axis}[place,at={(330.85pt,264.65pt)},width=209.65pt,height=168.35pt,
  xmin=-11.015,xmax=10.997,ymin=-67.6,ymax=1385.6,
  axis background/.style={fill=black!8},
  axis line style={draw=none},
  grid=both,major grid style={white,line width=.9pt},minor grid style={white,line width=.45pt},
  xtick={-10,-5,0,5,10},xticklabels={−10,−5,0,5,10},minor xtick={-7.5,-2.5,2.5,7.5},
  ytick={0,300,600,900,1200},yticklabels={0,300,600,900,1200},minor ytick={150,450,750,1050},
  xtick pos=bottom,ytick pos=left,tick align=outside,
  major tick length=1.8pt,minor tick length=0pt,tick style={ggray,line width=.5pt},
  tick label style={font=\fs{11.2},text=ggray},
  xlabel={Distance from TSS (kb)},ylabel={Number of Peaks},label style={font=\fs{12.1}},
  xlabel style={at={(axis description cs:.558,-.2)},anchor=center},
  ylabel style={at={(axis description cs:-.193,.529)},anchor=center},
  legend style={at={(axis description cs:-.081,-.289)},anchor=north west,draw=none,fill=none,
    font=\fs{13.7},inner sep=0pt,cells={anchor=west},row sep=3.5pt}]
\addplot[ybar,bar width=.92,bar shift=0pt,fill=blue,draw=white,line width=.3pt,
  legend image code/.code={\path[draw=none,fill=none] (0pt,0pt) -- (38pt,0pt);\fill[blue,draw=none] (6.65pt,-4.4pt) rectangle (24.15pt,4.4pt);}] coordinates {
(-9,14)(-8,10)(-7,14)(-6,14)(-5,12)(-4,9)(-3,19)(-2,29)(-1,69)(0,1321)(1,124)(2,29)(3,12)(4,17)(5,13)(6,12)(7,17)(8,12)(9,9)};
\addlegendentry{TAZ Peaks}
\addplot[red,line width=.7pt,dash pattern=on 3pt off 2pt,
  legend image code/.code={\path[draw=none] (0pt,0pt) -- (38pt,0pt);\draw[red,line width=1.6pt,dash pattern=on 8pt off 5pt] (0pt,0pt) -- (35.7pt,0pt);}] coordinates {(-11.015,19)(10.997,19)};
\addlegendentry{Random Genomic Regions}
\end{axis}

% F overlap with histone marks
\begin{axis}[fbars,at={(601.35pt,231.15pt)},ymax=15,xmin=-.668,xmax=2.674,
  ytick={0,5,10,15},yticklabels={0,5,10,15},minor y tick num=4,
  ylabel style={at={(axis description cs:-.274,.515)}},
  title={TAZ peaks},title style={at={(axis description cs:.4986,1.104)}}]
\addplot[ybar,bar width=.617,bar shift=0pt,fill=barg,draw=black,line width=1.5pt] coordinates {(0,14.27)(1,9.6)(2,8.08)};
\end{axis}
\begin{axis}[fbars,at={(778.65pt,231.15pt)},ymax=40,xmin=-.663,xmax=2.679,
  ytick={0,10,20,30,40},yticklabels={0,10,20,30,40},
  ylabel style={at={(axis description cs:-.28,.515)}},
  title={Top 2000 TAZ peaks},title style={at={(axis description cs:.497,1.104)}}]
\addplot[ybar,bar width=.617,bar shift=0pt,fill=barg,draw=black,line width=1.5pt] coordinates {(0,30.5)(1,14.05)(2,10.4)};
\end{axis}

% G motif logo
\def\lw{15.35pt}\def\lu{52.08pt}
\begin{axis}[place,at={(70.5pt,38.5pt)},width=194.9pt,height=109.5pt,
  xmin=-.097,xmax=12.6,ymin=-.1024,ymax=2,clip=false,
  axis line style={draw=none},
  xtick={1,...,12},ytick={0,.5,1,1.5,2},yticklabels={0,0.5,1,1.5,2},
  xticklabels={1,2,3,4,5,6,7,8,9,10,11,12},
  xtick pos=bottom,ytick pos=left,tick align=outside,
  major tick length=5.8pt,tick style={black!75,line width=.5pt},
  tick label style={font=\fs{9.6},text=black!85},
  x tick label style={yshift=-4.5pt},y tick label style={xshift=-2.5pt},
  title={TAZ Binding Motif},title style={at={(axis description cs:.502,.9945)},anchor=center,font=\fs{16.2}},
  xlabel={Position},xlabel style={at={(axis description cs:.523,-.282)},anchor=center,font=\bfseries\fs{13.6}},
  ylabel={Information content},ylabel style={at={(axis description cs:-.178,.525)},anchor=center,font=\fs{9.6}}]
\addplot[black!75,line width=.5pt] coordinates {(1,-.1024)(12,-.1024)};
\addplot[black!75,line width=.5pt] coordinates {(-.097,0)(-.097,2)};
\Lt{T}{bT}{1}{0}{.012}\Lt{C}{bC}{1}{.015}{.04}\Lt{G}{bG}{1}{.045}{.125}\Lt{A}{bA}{1}{.125}{1.52}
\Lt{G}{bG}{2}{0}{.015}\Lt{C}{bC}{2}{.016}{.03}\Lt{A}{bA}{2}{.03}{.09}\Lt{T}{bT}{2}{.09}{1.62}
\Lt{T}{bT}{3}{0}{.015}\Lt{A}{bA}{3}{.025}{.058}\Lt{C}{bC}{3}{.064}{.16}\Lt{G}{bG}{3}{.16}{1.3}
\Lt{T}{bT}{4}{0}{.01}\Lt{A}{bA}{4}{.02}{.05}\Lt{C}{bC}{4}{.05}{.105}\Lt{G}{bG}{4}{.11}{1.57}
\Lt{C}{bC}{5}{0}{.01}\Lt{G}{bG}{5}{.01}{.02}\Lt{T}{bT}{5}{.02}{.04}\Lt{A}{bA}{5}{.04}{1.83}
\Lt{C}{bC}{6}{0}{.02}\Lt{G}{bG}{6}{.025}{.05}\Lt{A}{bA}{6}{.05}{1.76}
\Lt{A}{bA}{7}{0}{.01}\Lt{C}{bC}{7}{.015}{.04}\Lt{T}{bT}{7}{.04}{1.82}
\Lt{A}{bA}{8}{0}{.03}\Lt{T}{bT}{8}{.03}{.07}\Lt{C}{bC}{8}{.075}{.145}\Lt{G}{bG}{8}{.15}{1.39}
\Lt{T}{bT}{9}{0}{.01}\Lt{A}{bA}{9}{.012}{.045}\Lt{C}{bC}{9}{.05}{.11}\Lt{G}{bG}{9}{.11}{1.57}
\Lt{C}{bC}{10}{0}{.01}\Lt{T}{bT}{10}{.01}{.02}\Lt{A}{bA}{10}{.02}{1.88}
\Lt{T}{bT}{11}{0}{.015}\Lt{G}{bG}{11}{.02}{.05}\Lt{C}{bC}{11}{.055}{.1}\Lt{A}{bA}{11}{.1}{1.52}
\Lt{G}{bG}{12}{0}{.01}\Lt{C}{bC}{12}{.012}{.05}\Lt{A}{bA}{12}{.05}{.11}\Lt{T}{bT}{12}{.11}{1.54}
\end{axis}

% G TAZ vs TEAD3
\def\lw{15.9pt}\def\lu{15pt}
\begin{axis}[logo,at={(355pt,97.15pt)},width=191.35pt]
\Lt{G}{lG}{1}{0}{.12}\Lt{A}{lA}{1}{.12}{1.94}
\Lt{C}{lC}{2}{0}{.05}\Lt{T}{lT}{2}{.05}{2.0}
\Lt{T}{lT}{3}{0}{.03}\Lt{C}{lC}{3}{.05}{.22}\Lt{G}{lG}{3}{.22}{2.05}
\Lt{C}{lC}{4}{0}{.1}\Lt{G}{lG}{4}{.1}{2.03}
\Lt{T}{lT}{5}{0}{.05}\Lt{A}{lA}{5}{.05}{1.97}
\Lt{G}{lG}{6}{0}{.07}\Lt{A}{lA}{6}{.07}{1.97}
\Lt{C}{lC}{7}{0}{.03}\Lt{T}{lT}{7}{.03}{1.97}
\Lt{T}{lT}{8}{0}{.03}\Lt{C}{lC}{8}{.05}{.2}\Lt{G}{lG}{8}{.2}{2.03}
\Lt{C}{lC}{9}{0}{.12}\Lt{G}{lG}{9}{.12}{2.03}
\Lt{C}{lC}{10}{0}{.03}\Lt{A}{lA}{10}{.03}{2.0}
\Lt{T}{lT}{11}{0}{.05}\Lt{G}{lG}{11}{.05}{.1}\Lt{C}{lC}{11}{.1}{.16}\Lt{A}{lA}{11}{.16}{1.94}
\Lt{A}{lA}{12}{0}{.06}\Lt{C}{lC}{12}{.06}{.1}\Lt{T}{lT}{12}{.1}{1.97}
\end{axis}
\begin{axis}[logo,at={(355pt,64pt)},width=191.35pt]
\Lt{G}{lG}{1}{.06}{.39}\Lt{T}{lT}{1}{.39}{.72}\Lt{A}{lA}{1}{.72}{1.13}\Lt{C}{lC}{1}{1.17}{2.14}
\Lt{G}{lG}{2}{.08}{.19}\Lt{C}{lC}{2}{.22}{.39}\Lt{T}{lT}{2}{.41}{2.11}
\Lt{G}{lG}{3}{0}{2.11}
\Lt{G}{lG}{4}{0}{2.11}
\Lt{T}{lT}{5}{0}{.22}\Lt{A}{lA}{5}{.22}{2.14}
\Lt{A}{lA}{6}{0}{2.0}
\Lt{T}{lT}{7}{0}{2.06}
\Lt{C}{lC}{8}{.09}{.2}\Lt{T}{lT}{8}{.22}{.76}\Lt{G}{lG}{8}{.76}{2.14}
\Lt{A}{lA}{9}{0}{.09}\Lt{T}{lT}{9}{.11}{1.11}\Lt{C}{lC}{9}{1.17}{2.11}
\Lt{T}{lT}{10}{.09}{.39}\Lt{C}{lC}{10}{.41}{.76}\Lt{G}{lG}{10}{.76}{1.26}\Lt{A}{lA}{10}{1.26}{1.89}
\Lt{A}{lA}{11}{.06}{.42}\Lt{C}{lC}{11}{.44}{.89}\Lt{G}{lG}{11}{.92}{1.59}\Lt{T}{lT}{11}{1.61}{2.13}
\Lt{A}{lA}{12}{.06}{.42}\Lt{C}{lC}{12}{.44}{.89}\Lt{G}{lG}{12}{.92}{1.59}\Lt{T}{lT}{12}{1.61}{2.13}
\end{axis}

% G TAZ vs TEAD1
\def\lw{17.3pt}
\begin{axis}[logo,at={(658.85pt,96.35pt)},width=207.8pt]
\Lt{G}{lG}{1}{0}{.12}\Lt{A}{lA}{1}{.12}{2.16}
\Lt{C}{lC}{2}{0}{.05}\Lt{T}{lT}{2}{.05}{2.16}
\Lt{T}{lT}{3}{0}{.03}\Lt{C}{lC}{3}{.05}{.22}\Lt{G}{lG}{3}{.22}{2.16}
\Lt{C}{lC}{4}{0}{.1}\Lt{G}{lG}{4}{.1}{2.16}
\Lt{T}{lT}{5}{0}{.05}\Lt{A}{lA}{5}{.05}{2.1}
\Lt{G}{lG}{6}{0}{.07}\Lt{A}{lA}{6}{.07}{2.1}
\Lt{C}{lC}{7}{0}{.03}\Lt{T}{lT}{7}{.03}{2.1}
\Lt{T}{lT}{8}{0}{.03}\Lt{C}{lC}{8}{.05}{.2}\Lt{G}{lG}{8}{.2}{2.16}
\Lt{C}{lC}{9}{0}{.12}\Lt{G}{lG}{9}{.12}{2.16}
\Lt{C}{lC}{10}{0}{.03}\Lt{A}{lA}{10}{.03}{2.12}
\Lt{T}{lT}{11}{0}{.05}\Lt{G}{lG}{11}{.05}{.1}\Lt{C}{lC}{11}{.1}{.16}\Lt{A}{lA}{11}{.16}{2.04}
\Lt{A}{lA}{12}{0}{.06}\Lt{C}{lC}{12}{.06}{.1}\Lt{T}{lT}{12}{.1}{2.1}
\end{axis}
\begin{axis}[logo,at={(658.85pt,60.5pt)},width=207.8pt]
\Lt{A}{lA}{1}{.02}{.55}\Lt{C}{lC}{1}{.59}{1.13}\Lt{G}{lG}{1}{1.17}{1.72}\Lt{T}{lT}{1}{1.76}{2.28}
\Lt{A}{lA}{2}{.02}{.89}\Lt{T}{lT}{2}{.92}{2.26}
\Lt{G}{lG}{3}{0}{2.28}
\Lt{G}{lG}{4}{0}{2.28}
\Lt{A}{lA}{5}{0}{2.2}
\Lt{A}{lA}{6}{0}{2.2}
\Lt{T}{lT}{7}{0}{2.2}
\Lt{T}{lT}{8}{.02}{.22}\Lt{G}{lG}{8}{.28}{2.28}
\Lt{C}{lC}{9}{.02}{1.08}\Lt{T}{lT}{9}{1.11}{2.28}
\Lt{T}{lT}{10}{.02}{.11}\Lt{C}{lC}{10}{.14}{.33}\Lt{A}{lA}{10}{.37}{1.3}\Lt{G}{lG}{10}{1.33}{2.28}
\Lt{A}{lA}{11}{.02}{.33}\Lt{C}{lC}{11}{.37}{.76}\Lt{T}{lT}{11}{.78}{1.3}\Lt{G}{lG}{11}{1.33}{2.28}
\Lt{A}{lA}{12}{.02}{.55}\Lt{C}{lC}{12}{.59}{1.11}\Lt{G}{lG}{12}{1.14}{1.74}\Lt{T}{lT}{12}{1.78}{2.28}
\end{axis}

% whole figure, in the pixels of the reference
\begin{axis}[place,at={(0pt,0pt)},width=905pt,height=823pt,hide axis,clip=false,
  xmin=0,xmax=1810,ymin=0,ymax=1646,y dir=reverse]
% A flow chart
\addplot[black,line width=1.2pt,-{Stealth[length=7pt,width=6.5pt]}] coordinates {(198,89)(259,23)};
\addplot[black,line width=1.2pt,-{Stealth[length=7pt,width=6.5pt]}] coordinates {(198,119)(264,175)};
\addplot[black,line width=1.2pt,-{Stealth[length=7pt,width=6.5pt]}] coordinates {(392,20)(440,20)};
\addplot[black,line width=1.2pt,-{Stealth[length=7pt,width=6.5pt]}] coordinates {(380,157)(440,63)};
\addplot[black,line width=1.2pt,-{Stealth[length=7pt,width=6.5pt]}] coordinates {(377,182)(440,182)};
\addplot[black,line width=1.2pt,-{Stealth[length=7pt,width=6.5pt]}] coordinates {(900,63)(948,63)};
\addplot[black,line width=1.2pt,-{Stealth[length=7pt,width=6.5pt]}] coordinates {(900,182)(948,182)};
\node[font=\carlito\bfseries\fs{18}] at (127,85) {GBM1B};
\node[font=\carlito\bfseries\fs{18}] at (127,128) {Cells};
\node[font=\carlito\bfseries\fs{18}] at (324,19) {Control};
\node[font=\carlito\bfseries\fs{18}] at (320,184) {EGF};
\node[font=\carlito\bfseries\fs{18},anchor=west,inner sep=0pt] at (460,21) {RNA-Seq};
\node[font=\carlito\fs{18.05},text=upred,anchor=west,inner sep=0pt] at (460,62) {Up-regulated: 1,624 genes};
\node[font=\carlito\fs{18.05},text=downblue,anchor=west,inner sep=0pt] at (460,105) {Down-regulated: 1,238 genes};
\node[font=\carlito\fs{18.05},anchor=west,inner sep=0pt] at (967,80) {\bfseries TAZ-binding genes\mdseries:};
\node[font=\carlito\fs{18.05},text=upred,anchor=west,inner sep=0pt] at (967,123) {Up-regulated: 640 genes};
\node[font=\carlito\fs{18.05},text=downblue,anchor=west,inner sep=0pt] at (967,167) {Down-regulated: 381 genes};
\node[font=\carlito\bfseries\fs{18},anchor=west,inner sep=0pt] at (455,191) {TAZ ChIP-Seq};
\node[font=\carlito\fs{18.05},text=black!80,anchor=west,inner sep=0pt] at (455,236) {10,187 TAZ-binding genes};
% panel letters
\node[font=\bfseries\fs{31}] at (28,30) {A};
\node[font=\bfseries\fs{31}] at (28,308) {B};
\node[font=\bfseries\fs{31}] at (529,309) {C};
\node[font=\bfseries\fs{31}] at (28,763) {D};
\node[font=\bfseries\fs{31}] at (568,764) {E};
\node[font=\bfseries\fs{31}] at (1126,762) {F};
\node[font=\bfseries\fs{31}] at (40,1310) {G};
% B labels
\node[font=\fs{11.6}] at (117,613) {1};
\node[font=\fs{11.6}] at (174,613) {2};
\node[font=\fs{11.6}] at (244,613) {1};
\node[font=\fs{11.6}] at (292,613) {2};
\node[font=\fs{11.6}] at (365,613) {1};
\node[font=\fs{11.6}] at (418,613) {2};
\addplot[black!80,line width=.6pt] coordinates {(86,633)(202,633)(nan,nan)(211,633)(326,633)(nan,nan)(334,633)(450,633)};
\node[font=\bfseries\fs{14.7}] at (146,657) {Control};
\node[font=\bfseries\fs{14.7}] at (273,657) {EGF 4h};
\node[font=\bfseries\fs{14.7}] at (399,657) {EGF 24h};
% C headings
\node[font=\bfseries\fs{15.2}] at (740,307) {803 Down};
\node[font=\bfseries\fs{15.2}] at (908,307) {EGF 4h};
\node[font=\bfseries\fs{15.2}] at (1069,308) {1,126 Up};
\node[font=\bfseries\fs{15.2}] at (1374,302) {1,054 Down};
\node[font=\bfseries\fs{15.2}] at (1564,302) {EGF 24h};
\node[font=\bfseries\fs{15.2}] at (1716,302) {1,201 Up};
% D statistics
\node[font=\bfseries\fs{16.6},anchor=west,inner sep=0pt] at (173,784) {r = 0.91};
\node[font=\bfseries\fs{16.6},anchor=west,inner sep=0pt] at (173,827) {\mdseries\itshape p\upshape\bfseries\ < 0.001};
% G row names
\node[font=\fs{16.5}] at (641,1418) {TAZ};
\node[font=\fs{16.5}] at (640,1487) {TEAD3};
\node[font=\fs{16.5}] at (1235,1417) {TAZ};
\node[font=\fs{16.5}] at (1234,1496) {TEAD1};
\end{axis}
\end{tikzpicture}
\end{document}
